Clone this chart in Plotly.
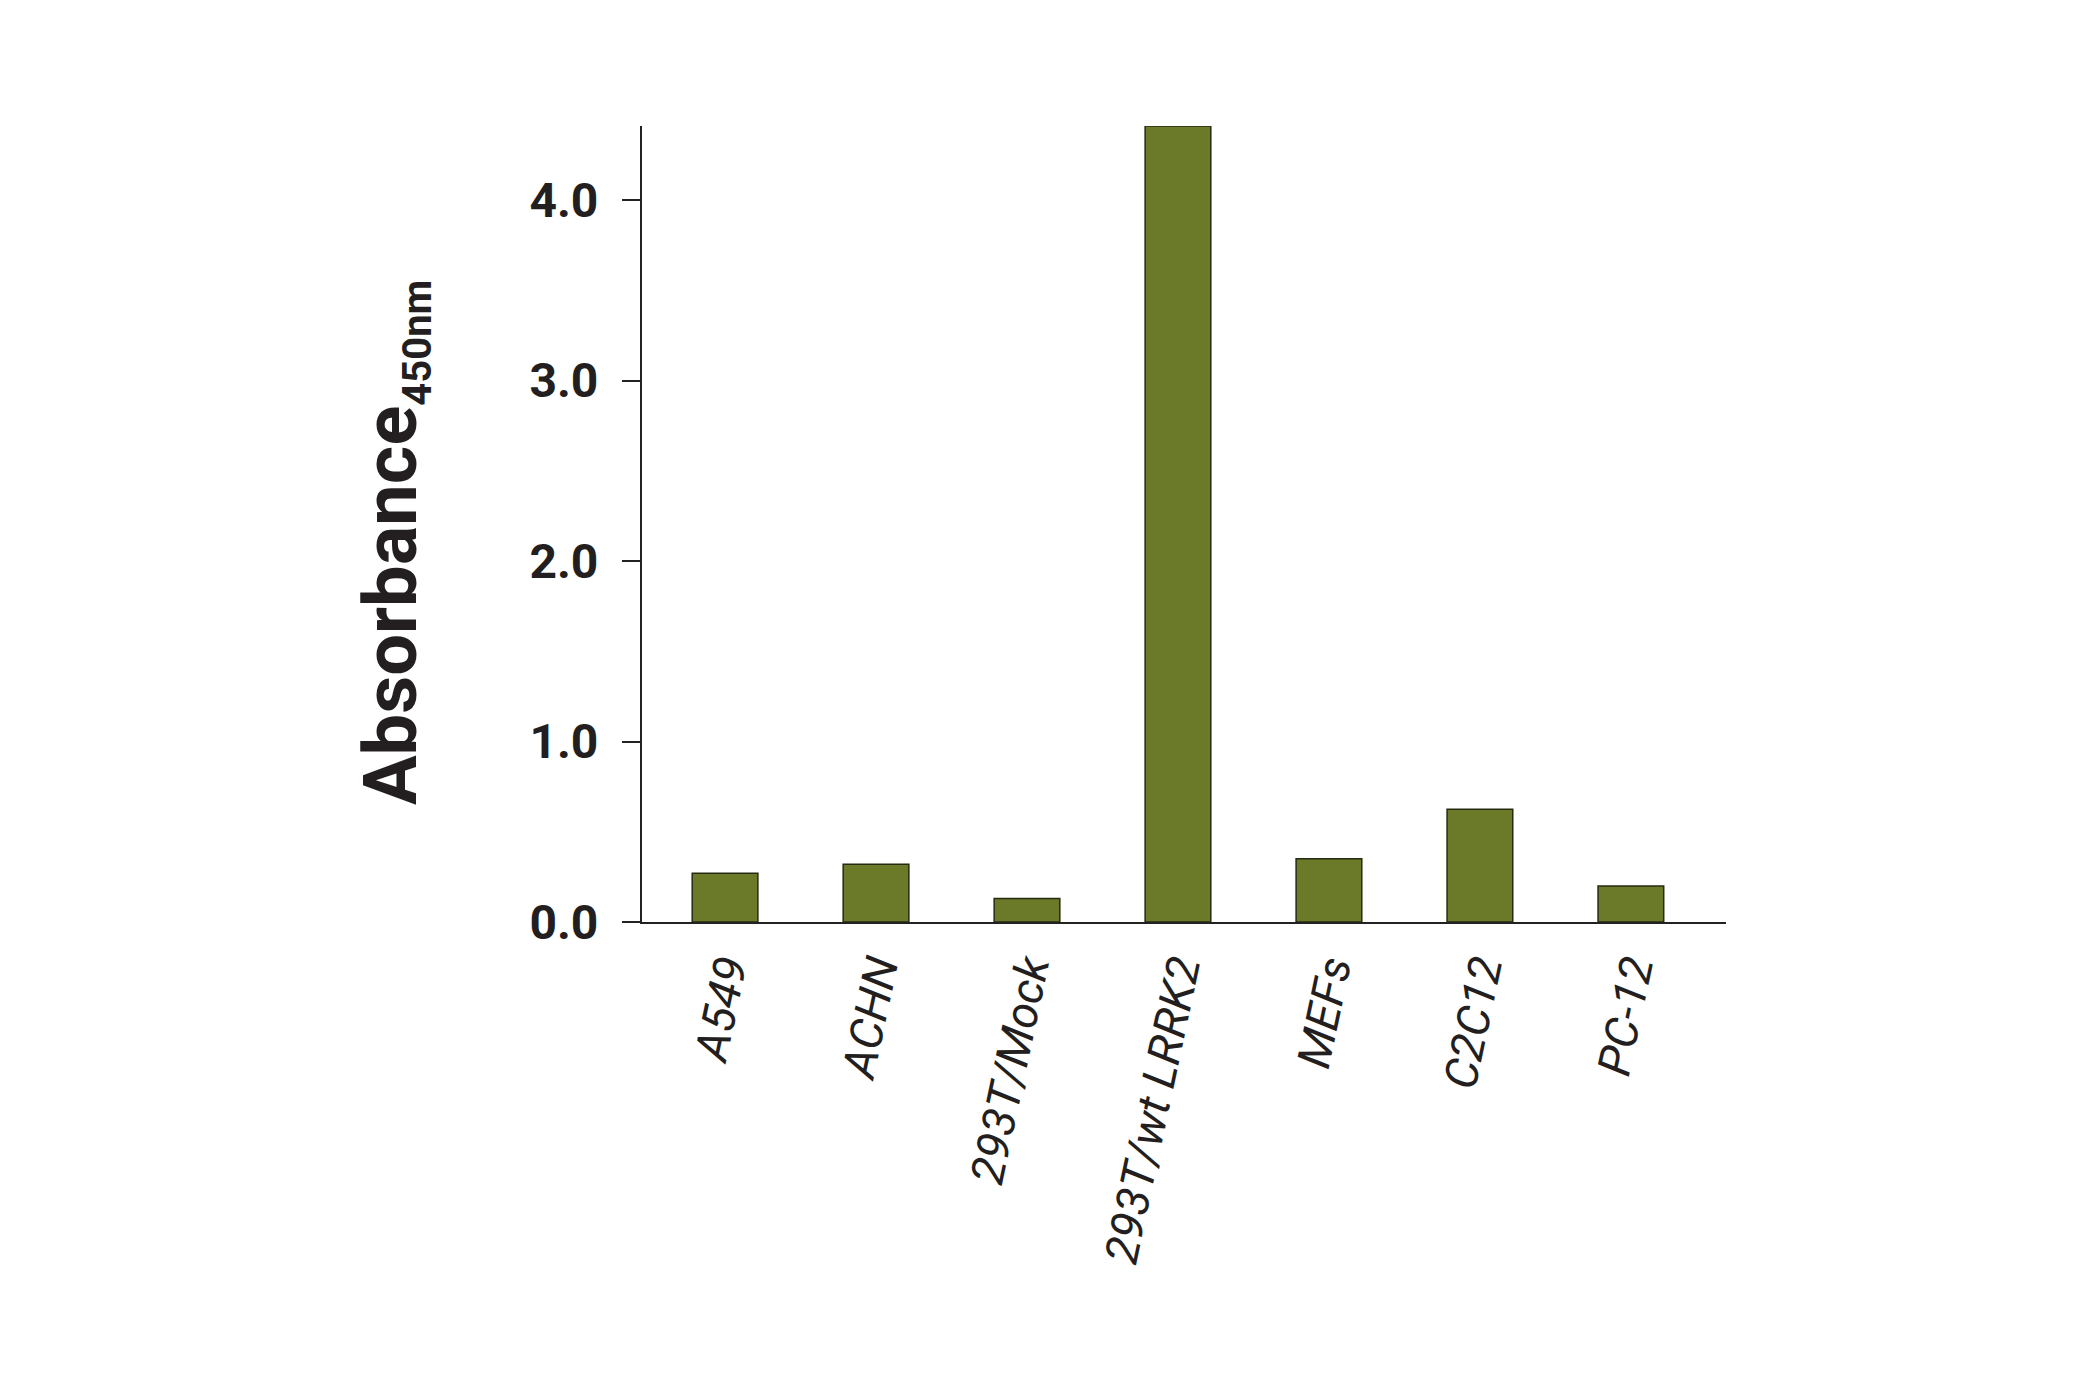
import plotly.graph_objects as go

categories = ["A549", "ACHN", "293T/Mock", "293T/wt LRRK2", "MEFs", "C2C12", "PC-12"]
absorbance = [0.27, 0.32, 0.13, 4.41, 0.35, 0.625, 0.20]
y_ticks = [0, 1, 2, 3, 4]
y_tick_labels = ["0.0", "1.0", "2.0", "3.0", "4.0"]

FONT = "Roboto, Liberation Sans, sans-serif"
INK = "#231f20"

fig = go.Figure()
fig.add_trace(go.Bar(
    x=categories,
    y=absorbance,
    width=0.435,
    marker=dict(color="#6b7a28", line=dict(color="#262a12", width=1.5)),
))

fig.update_layout(
    width=2080,
    height=1400,
    paper_bgcolor="white",
    plot_bgcolor="white",
    showlegend=False,
    margin=dict(l=634, r=362, t=118, b=486),
)

fig.update_xaxes(
    type="category",
    range=[-0.55, 6.63],
    showline=True,
    linecolor="#222222",
    linewidth=2,
    ticks="",
    showgrid=False,
    tickangle=-78,
    tickfont=dict(family=FONT, size=46, color=INK, style="italic"),
)

fig.update_yaxes(
    range=[0, 4.41],
    tickvals=y_ticks,
    ticktext=y_tick_labels,
    showline=True,
    linecolor="#222222",
    linewidth=2,
    ticks="outside",
    ticklen=18,
    tickwidth=1.5,
    tickcolor="#222222",
    showgrid=False,
    zeroline=False,
    ticklabelstandoff=14,
    tickfont=dict(family=FONT, size=48, color=INK, weight="bold"),
)

fig.add_annotation(
    text='Absorbance<sub><span style="font-size:40px">450nm</span></sub>',
    xref="paper", yref="paper",
    x=0, y=0.476,
    xanchor="center", yanchor="middle",
    xshift=-248,
    textangle=-90,
    showarrow=False,
    font=dict(family=FONT, size=74, color=INK, weight="bold"),
)

fig.write_html("out.html")
